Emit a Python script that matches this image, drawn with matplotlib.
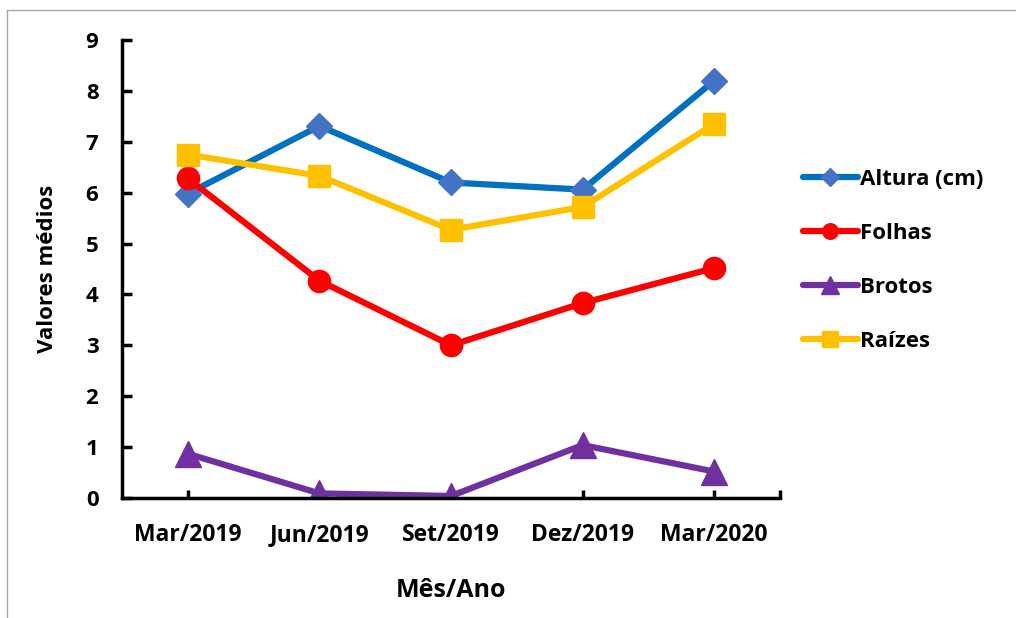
import matplotlib
matplotlib.use("Agg")
import matplotlib.pyplot as plt
from matplotlib.patches import Rectangle

categories = ["Mar/2019", "Jun/2019", "Set/2019", "Dez/2019", "Mar/2020"]
altura = [5.98, 7.31, 6.20, 6.06, 8.20]
folhas = [6.28, 4.27, 3.00, 3.83, 4.52]
brotos = [0.87, 0.09, 0.04, 1.04, 0.52]
raizes = [6.75, 6.33, 5.27, 5.72, 7.35]
y_ticks = list(range(0, 10))

plt.rcParams['font.family'] = ['Open Sans', 'DejaVu Sans']
plt.rcParams['font.weight'] = 'bold'

fig = plt.figure(figsize=(10.16, 6.18), dpi=100)
ax = fig.add_axes([122/1016, 1-498/618, (780-122)/1016, (498-40)/618])

fig.patches.append(Rectangle((7/1016, -0.1), 1.2, 0.1 + (618-10)/618,
                             transform=fig.transFigure, fill=False,
                             edgecolor='#a6a6a6', linewidth=1.0, clip_on=False))

x = list(range(len(categories)))
ax.plot(x, altura, color='#0070C0', lw=4.5, marker='D', ms=13.5,
        mfc='#4472C4', mec='#4472C4', label='Altura (cm)', solid_capstyle='round')
ax.plot(x, folhas, color='#FF0000', lw=4.5, marker='o', ms=16,
        mfc='#FF0000', mec='#FF0000', label='Folhas', solid_capstyle='round')
ax.plot(x, brotos, color='#7030A0', lw=4.5, marker='^', ms=19,
        mfc='#7030A0', mec='#7030A0', label='Brotos', solid_capstyle='round')
ax.plot(x, raizes, color='#FFC000', lw=4.5, marker='s', ms=15.5,
        mfc='#FFC000', mec='#FFC000', label='Raízes', solid_capstyle='round')

ax.set_xlim(-0.5, 4.5)
ax.set_ylim(0, 9)
ax.set_yticks(y_ticks)
ax.set_xticks(x)
ax.set_xticks([4.5], minor=True)
ax.set_xticklabels(categories)
for s in ['top', 'right']:
    ax.spines[s].set_visible(False)
for s in ['left', 'bottom']:
    ax.spines[s].set_linewidth(2.5)
ax.tick_params(axis='y', direction='in', length=7, width=2.5, labelsize=16, pad=17)
ax.tick_params(axis='x', which='both', direction='in', length=6, width=2.5, labelsize=16.5, pad=18)

ax.set_xlabel('Mês/Ano', fontsize=18, fontweight='bold', labelpad=22)
ax.set_ylabel('Valores médios', fontsize=16, fontweight='bold', labelpad=20)

leg = ax.legend(loc='upper left', bbox_to_anchor=(1.004, 0.762), frameon=False,
                fontsize=16, handlelength=2.5, handletextpad=0.1,
                labelspacing=1.48, markerscale=0.7, numpoints=1)

fig.savefig('out.png', dpi=100)
